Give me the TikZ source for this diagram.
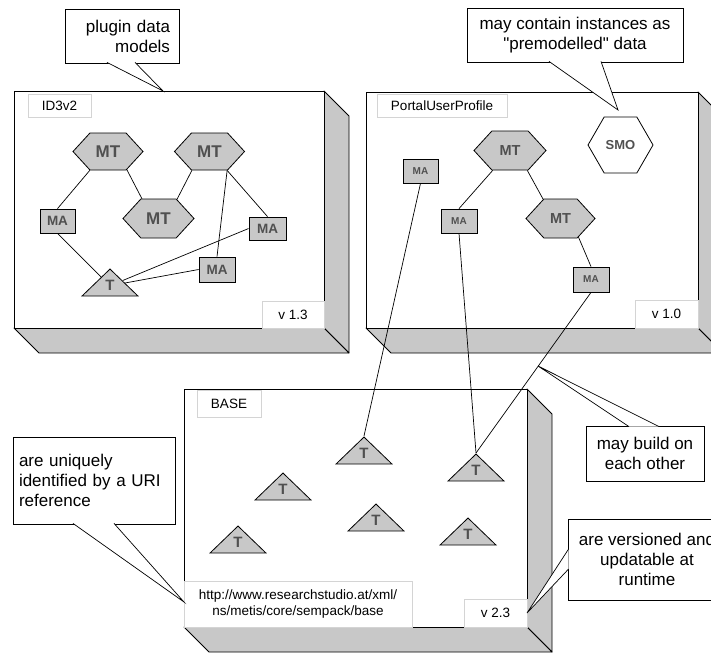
\documentclass[tikz,border=0pt]{standalone}
\usepackage{fontspec}
\setmainfont{Liberation Sans}
\usetikzlibrary{shapes.geometric,shapes.symbols}

\definecolor{packgray}{RGB}{200,200,200}
\definecolor{taggray}{RGB}{212,212,212}
\definecolor{glyphgray}{RGB}{80,80,80}

\tikzset{
  face/.style={fill=packgray, draw=black, line width=0.8pt, line join=round},
  front/.style={fill=white, draw=black, line width=0.8pt},
  tag/.style={draw=taggray, fill=white, line width=0.8pt, inner sep=0pt,
    font=\fontsize{13.5}{16}\selectfont},
  hexa/.style={shape=signal, signal to=east and west, signal pointer angle=95,
    draw=black, fill=packgray, line width=0.8pt, inner sep=0pt, text=glyphgray,
    font=\bfseries\fontsize{17}{20}\selectfont},
  attr/.style={draw=black, fill=packgray, line width=0.8pt, inner sep=0pt,
    text=glyphgray, font=\bfseries\fontsize{13.5}{16}\selectfont},
  tri/.style={isosceles triangle, isosceles triangle stretches,
    shape border rotate=90, minimum width=56pt, minimum height=27pt,
    draw=black, fill=packgray, line width=0.8pt, inner sep=0pt, anchor=apex,
    text=glyphgray, font=\bfseries\fontsize{15}{18}\selectfont},
  note/.style={draw=black, fill=white, line width=0.8pt,
    font=\fontsize{17}{20}\selectfont},
  link/.style={draw=black, line width=0.7pt},
}

\begin{document}
\begin{tikzpicture}[x=1pt, y=-1pt]
  \useasboundingbox (0,0) rectangle (711,653);
  \clip (0,0) rectangle (711,653);

  % the three packages
  \foreach \xa/\ya/\xb/\yb in {14/91/324/328, 366/92/698/328, 184/389/527/627} {
    \draw[face] (\xb,\ya) -- (\xb+25,\ya+25) -- (\xb+25,\yb+25) -- (\xb,\yb) -- cycle;
    \draw[face] (\xa,\yb) -- (\xb,\yb) -- (\xb+25,\yb+25) -- (\xa+25,\yb+25) -- cycle;
    \draw[front] (\xa,\ya) rectangle (\xb,\yb);
  }

  \node[tag, minimum width=63pt, minimum height=23pt] (idtag) at (59.5,105.5) {ID3v2};
  \node[tag, minimum width=62pt, minimum height=27pt] (idver) at (293,314.5) {v 1.3};
  \node[tag, minimum width=130pt, minimum height=23pt] (portaltag) at (442,105.5) {PortalUserProfile};
  \node[tag, minimum width=63pt, minimum height=28pt] (portalver) at (666.5,314) {v 1.0};
  \node[tag, minimum width=64pt, minimum height=27pt] (basetag) at (229,403.5) {BASE};
  \node[tag, minimum width=228pt, minimum height=46pt, align=center] (baseuri) at (298,604)
    {http://www.researchstudio.at/xml/\\ns/metis/core/sempack/base};
  \node[tag, minimum width=63pt, minimum height=28pt] (basever) at (495.5,613) {v 2.3};

  % ID3v2
  \node[hexa, minimum width=70pt, minimum height=37pt] (mtA) at (108,151.5) {MT};
  \node[hexa, minimum width=70pt, minimum height=37pt] (mtB) at (209.5,151.5) {MT};
  \node[hexa, minimum width=71pt, minimum height=39pt] (mtC) at (158.5,218.5) {MT};
  \node[attr, minimum width=35pt, minimum height=24pt] (maA) at (57.5,221) {MA};
  \node[attr, minimum width=37pt, minimum height=23pt] (maB) at (267.5,228.5) {MA};
  \node[attr, minimum width=36pt, minimum height=25pt] (maC) at (217,269.5) {MA};
  \node[tri] (tA) at (110,268) {T};

  \draw[link] (mtA.-134) -- (maA.north);
  \draw[link] (mtA.-44) -- (mtC.130);
  \draw[link] (mtC.46) -- (mtB.-133);
  \draw[link] (mtB.-47) -- (maB.north);
  \draw[link] (mtB.-47) -- (maC.north);
  \draw[link] (maA.south) -- (tA);
  \draw[link] (tA) -- (maB.west);
  \draw[link] (tA) -- (maC.west);

  % PortalUserProfile
  \node[hexa, minimum width=72pt, minimum height=39pt, font=\bfseries\fontsize{14.5}{17}\selectfont] (mtD) at (510,150.5) {MT};
  \node[hexa, minimum width=69pt, minimum height=39pt, font=\bfseries\fontsize{14.5}{17}\selectfont] (mtE) at (560.5,218.5) {MT};
  \node[hexa, signal pointer angle=120, fill=white, minimum width=65pt, minimum height=56pt,
    font=\bfseries\fontsize{13}{16}\selectfont] (smo) at (620.5,145) {SMO};
  \node[attr, minimum width=35pt, minimum height=24pt, font=\bfseries\fontsize{10}{12}\selectfont] (maD) at (420.5,171) {MA};
  \node[attr, minimum width=36pt, minimum height=24pt, font=\bfseries\fontsize{10}{12}\selectfont] (maE) at (459,221) {MA};
  \node[attr, minimum width=36pt, minimum height=25pt, font=\bfseries\fontsize{10}{12}\selectfont] (maF) at (591,279.5) {MA};

  \draw[link] (mtD.-131) -- (maE.north);
  \draw[link] (mtD.-49) -- (mtE.132);
  \draw[link] (mtE.-46) -- (maF.north);

  % BASE
  \node[tri] (tB) at (364,436) {T};
  \node[tri] (tC) at (476,453) {T};
  \node[tri] (tD) at (283,472) {T};
  \node[tri] (tE) at (376,503) {T};
  \node[tri] (tF) at (468,517) {T};
  \node[tri] (tG) at (238,525) {T};

  \draw[link] (maD.south) -- (tB.apex);
  \draw[link] (maE.south) -- (tC.apex);
  \draw[link] (maF.south) -- (tC.apex);

  % callouts
  \node[note, align=right, text width=96pt, inner xsep=9pt, minimum height=54pt] (plugnote) at (122,36)
    {plugin data\\models};
  \coordinate (plugtip) at (163,91);
  \fill[white] ([xshift=-15pt,yshift=1pt]plugnote.south) -- (plugtip) -- ([xshift=13pt,yshift=1pt]plugnote.south) -- cycle;
  \draw[link] ([xshift=-15pt,yshift=1pt]plugnote.south) -- (plugtip) -- ([xshift=13pt,yshift=1pt]plugnote.south);

  \node[note, align=center, minimum width=216pt, minimum height=54pt] (containnote) at (575,35)
    {may contain instances as\\\textquotedbl premodelled\textquotedbl{} data};
  \coordinate (containtip) at (618,110);
  \fill[white] ([xshift=-26pt,yshift=1pt]containnote.south) -- (containtip) -- ([xshift=26pt,yshift=1pt]containnote.south) -- cycle;
  \draw[link] ([xshift=-26pt,yshift=1pt]containnote.south) -- (containtip) -- ([xshift=26pt,yshift=1pt]containnote.south);

  \node[note, align=center, minimum width=118pt, minimum height=55pt] (buildnote) at (645,453.5)
    {may build on\\each other};
  \coordinate (buildtip) at (538,366);
  \fill[white] ([xshift=-16pt,yshift=-1pt]buildnote.north) -- (buildtip) -- ([xshift=14pt,yshift=-1pt]buildnote.north) -- cycle;
  \draw[link] ([xshift=-16pt,yshift=-1pt]buildnote.north) -- (buildtip) -- ([xshift=14pt,yshift=-1pt]buildnote.north);

  \node[note, align=left, text width=150pt, inner xsep=6pt, minimum height=87pt] (urinote) at (94,480.5)
    {are uniquely\\identified by a URI\\reference};
  \coordinate (uritip) at (184,602);
  \fill[white] ([xshift=-21pt,yshift=1pt]urinote.south) -- (uritip) -- ([xshift=20pt,yshift=1pt]urinote.south) -- cycle;
  \draw[link] ([xshift=-21pt,yshift=1pt]urinote.south) -- (uritip) -- ([xshift=20pt,yshift=1pt]urinote.south);

  \node[note, align=center, minimum width=158pt, minimum height=81pt] (versnote) at (647,559.5)
    {are versioned and\\updatable at\\runtime};
  \coordinate (verstip) at (527,613);
  \fill[white] ([xshift=1pt,yshift=10.5pt]versnote.west) -- (verstip) -- ([xshift=1pt,yshift=-9.5pt]versnote.west) -- cycle;
  \draw[link] ([xshift=1pt,yshift=10.5pt]versnote.west) -- (verstip) -- ([xshift=1pt,yshift=-9.5pt]versnote.west);
\end{tikzpicture}
\end{document}
